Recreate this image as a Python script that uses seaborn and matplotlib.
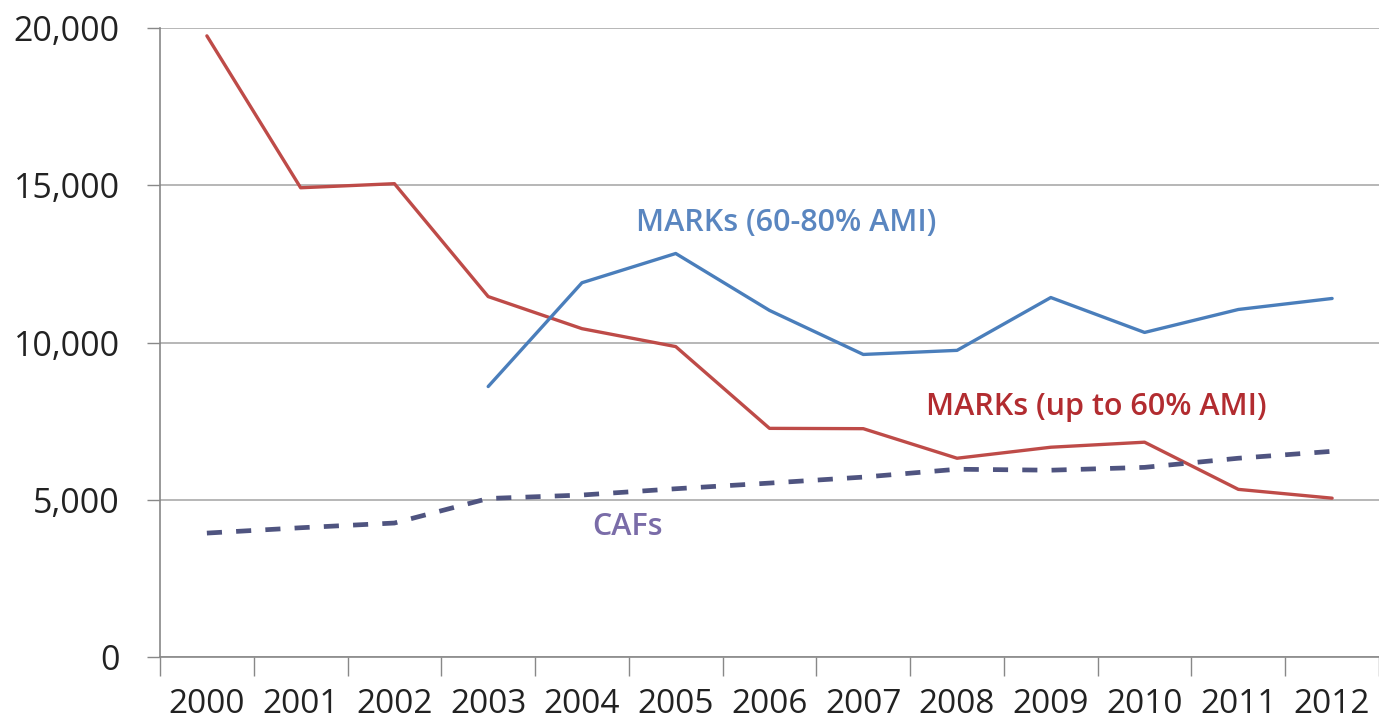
import matplotlib
matplotlib.use("Agg")
import matplotlib.pyplot as plt
import seaborn as sns
import numpy as np
import pandas as pd

years = ["2000", "2001", "2002", "2003", "2004", "2005", "2006",
         "2007", "2008", "2009", "2010", "2011", "2012"]
marks_low = [19750, 14920, 15050, 11460, 10440, 9870, 7270,
             7260, 6320, 6670, 6830, 5330, 5050]
marks_mid = [np.nan, np.nan, np.nan, 8600, 11900, 12830, 11020,
             9620, 9750, 11430, 10320, 11050, 11400]
cafs = [3940, 4110, 4260, 5040, 5150, 5350, 5530,
        5720, 5970, 5940, 6030, 6320, 6540]
y_ticks = [0, 5000, 10000, 15000, 20000]

sns.set_theme(style="white")
plt.rcParams['font.family'] = ['Open Sans', 'DejaVu Sans']

fig = plt.figure(figsize=(13.79, 7.25), dpi=100)
ax = fig.add_axes([160/1379, 68/725, 1 - 160/1379, (657-28)/725])

pos = np.arange(len(years))
df = pd.DataFrame({"pos": pos, "low": marks_low, "mid": marks_mid, "cafs": cafs})

sns.lineplot(data=df, x="pos", y="low", ax=ax, color="#BE4B48", lw=2.4)
sns.lineplot(data=df.dropna(subset=["mid"]), x="pos", y="mid", ax=ax, color="#4A7EBB", lw=2.4)
sns.lineplot(data=df, x="pos", y="cafs", ax=ax, color="#4F5480", lw=3.4,
             linestyle=(0, (3.2, 3.0)))

ax.set_xlim(-0.5, len(years) - 0.5)
ax.set_ylim(0, 20000)
ax.set_yticks(y_ticks)
ax.set_yticklabels([f"{v:,}" for v in y_ticks])
ax.set_xticks(pos)
ax.set_xticklabels(years)
ax.set_xticks(np.arange(len(years) + 1) - 0.5, minor=True)
ax.tick_params(axis="x", which="major", length=0, pad=22, labelsize=24, colors="#222222")
ax.tick_params(axis="x", which="minor", length=13.5, width=1, color="#888888", direction="out", bottom=True)
ax.tick_params(axis="y", length=9.5, width=1, color="#888888", direction="out", left=True,
               labelsize=24.5, pad=19.5, labelcolor="#222222")
ax.set_xlabel("")
ax.set_ylabel("")

ax.grid(axis="y", color="#AAAAAA", lw=1.2)
ax.grid(axis="x", visible=False)
for s in ["top", "right"]:
    ax.spines[s].set_visible(False)
ax.spines["left"].set_color("#888888")
ax.spines["left"].set_linewidth(1.2)
ax.spines["bottom"].set_color("#888888")
ax.spines["bottom"].set_linewidth(1.2)

ax.text(6.18, 13810, "MARKs (60-80% AMI)", color="#5A86C0", fontsize=22,
        fontweight="semibold", ha="center", va="center")
ax.text(9.49, 7940, "MARKs (up to 60% AMI)", color="#B22C30", fontsize=22,
        fontweight="semibold", ha="center", va="center")
ax.text(4.49, 4130, "CAFs", color="#7A6CA8", fontsize=22,
        fontweight="semibold", ha="center", va="center")

fig.savefig("out.png", dpi=100)
